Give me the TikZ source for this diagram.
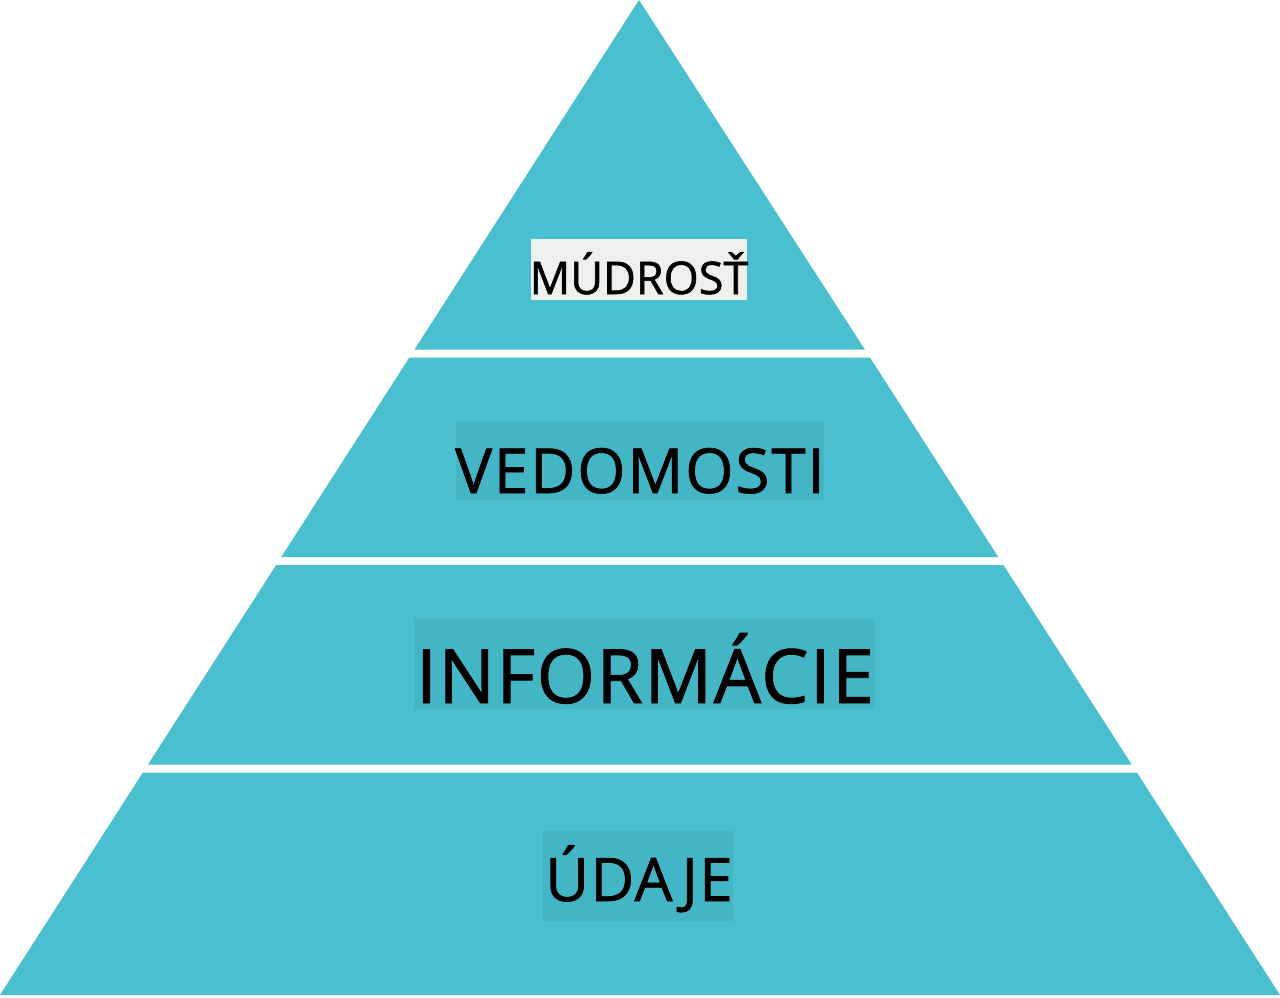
\documentclass[tikz,border=0pt]{standalone}
\usepackage{fontspec}
\setmainfont{Open Sans}
\newfontfamily\labfont[FakeBold=1.2]{Open Sans}
\definecolor{band}{HTML}{4ABFCF}
\definecolor{lbox}{HTML}{44B5C5}
\definecolor{gbox}{HTML}{EEF0F0}
\begin{document}
\begin{tikzpicture}[x=1pt,y=-1pt,
  bandfill/.style={fill=band,draw=none},
  lab/.style={anchor=base,inner sep=0pt,text=black}]
\useasboundingbox (0,0) rectangle (1280,998);
\fill[white] (0,0) rectangle (1280,998);
% bands
\path[bandfill] (639,0) -- (864.8,349.5) -- (414.5,349.5) -- cycle;
\path[bandfill] (409.4,357.5) -- (869.9,357.5) -- (998.3,557) -- (281.3,557) -- cycle;
\path[bandfill] (276.2,565) -- (1003.4,565) -- (1131.7,764.5) -- (148.0,764.5) -- cycle;
\path[bandfill] (142.9,772.5) -- (1136.9,772.5) -- (1280,995) -- (0,995) -- cycle;
% label boxes
\fill[gbox] (531,239) rectangle (747,300);
\fill[lbox] (456,422) rectangle (824,500);
\fill[lbox] (415,619) rectangle (875,709);
\fill[lbox] (543,831) rectangle (733,921);
% labels
\node[lab,font=\labfont\fontsize{45}{50}\selectfont] (mud) at (639,294) {MÚDROSŤ};
\node[lab,font=\labfont\fontsize{62}{66}\selectfont\addfontfeatures{LetterSpace=3}] (ved) at (640,493) {VEDOMOSTI};
\node[lab,font=\labfont\fontsize{75}{80}\selectfont\addfontfeatures{LetterSpace=2}] (inf) at (645,703) {INFORMÁCIE};
\node[lab,font=\labfont\fontsize{60}{64}\selectfont\addfontfeatures{LetterSpace=2.5}] (uda) at (639,901) {ÚDAJE};
\end{tikzpicture}
\end{document}
